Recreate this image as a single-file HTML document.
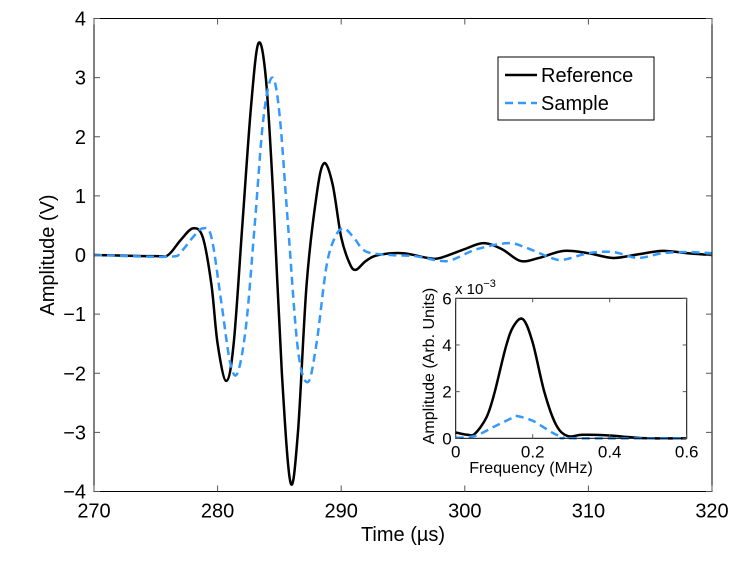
<!DOCTYPE html>
<html><head><meta charset="utf-8"><style>
body{margin:0;background:#fff;}
svg{display:block;font-family:"Liberation Sans",sans-serif;}
</style></head><body>
<svg id="c" width="747" height="571"></svg>
<script>
const refT=[270,275,276,277,278,278.8,279.5,280,280.7,281.3,282,282.7,283.3,283.9,284.5,285.2,285.9,286.5,287.2,288,288.6,289.3,290,290.7,291.2,292,293,295,297,298,300,301.5,303,304.5,306,308,310,312,314,316,318,320];
const refV=[0,-0.02,0,0.25,0.45,0.3,-0.5,-1.5,-2.13,-1.5,0.5,2.5,3.58,3,1,-2,-3.85,-3,-0.5,1,1.55,1.2,0.3,-0.15,-0.25,-0.1,0,0.03,-0.05,-0.05,0.1,0.2,0.1,-0.1,-0.05,0.07,0.03,-0.05,0.01,0.07,0.03,0];
const smpT=[270,276,277,278,278.8,279.5,280.3,281,281.6,282.3,283,283.7,284.4,285,285.7,286.5,287.3,288,288.8,289.5,290.2,291,292,294,296,298,299,301,303.5,305,307,308,310,312,314,316,318,320];
const smpV=[0,-0.03,0.05,0.3,0.45,0.3,-0.8,-1.8,-2.0,-1.2,0.5,2.3,3.0,2.4,0.5,-1.6,-2.15,-1.5,-0.2,0.3,0.45,0.3,0.06,0,-0.02,-0.1,-0.08,0.1,0.2,0.12,-0.05,-0.08,0.03,0.05,-0.05,0.03,0.05,0.03];
const fF=[0,0.03,0.05,0.08,0.1,0.13,0.15,0.175,0.2,0.23,0.26,0.29,0.33,0.4,0.45,0.5,0.6];
const fRef=[0.25,0.15,0.2,0.9,1.9,3.9,4.8,5.1,4.1,2,0.6,0.1,0.15,0.12,0.05,0,0];
const fSmpF=[0,0.05,0.1,0.15,0.16,0.2,0.25,0.28,0.3,0.6];
const fSmp=[0.02,0.1,0.5,0.9,0.95,0.75,0.25,0.03,0,0];
const xTicks=[270,280,290,300,310,320];
const yTicks=[-4,-3,-2,-1,0,1,2,3,4];
const ixTicks=[0,0.2,0.4,0.6];
const iyTicks=[0,2,4,6];

const svg=document.getElementById('c');
const NS='http://www.w3.org/2000/svg';
function mk(tag,attrs,parent){const e=document.createElementNS(NS,tag);for(const k in attrs)e.setAttribute(k,attrs[k]);(parent||svg).appendChild(e);return e;}
function lbl(v){return v<0?'\u2212'+(-v):String(v);}
function smooth(xs,ys,sx,sy){const p=xs.map((x,i)=>[sx(x),sy(ys[i])]);let d='M'+p[0][0]+','+p[0][1];
for(let i=0;i<p.length-1;i++){const p0=p[i-1]||p[i],p1=p[i],p2=p[i+1],p3=p[i+2]||p2;
d+=' C'+(p1[0]+(p2[0]-p0[0])/6)+','+(p1[1]+(p2[1]-p0[1])/6)+' '+(p2[0]-(p3[0]-p1[0])/6)+','+(p2[1]-(p3[1]-p1[1])/6)+' '+p2[0]+','+p2[1];}return d;}

const L=94,R=712,T=18.5,B=491.5;
const sx=t=>L+(t-270)/50*(R-L), sy=v=>255-v*(B-T)/8;
let g=mk('g',{});
let e=mk('path',{d:smooth(refT,refV,sx,sy),fill:'none',stroke:'#000','stroke-width':2.5},g);
e=mk('path',{d:smooth(smpT,smpV,sx,sy),fill:'none',stroke:'#3399ff','stroke-width':2.5,'stroke-dasharray':'8,5'},g);
e=mk('rect',{x:L,y:T,width:R-L,height:B-T,fill:'none',stroke:'#000','stroke-width':1});
xTicks.forEach(t=>{const x=sx(t);mk('line',{x1:x,x2:x,y1:B,y2:B-6,stroke:'#555'});mk('line',{x1:x,x2:x,y1:T,y2:T+6,stroke:'#555'});
const tx=mk('text',{x:x,y:B+26,'font-size':20,'text-anchor':'middle'});tx.textContent=t;});
yTicks.forEach(v=>{const y=sy(v);mk('line',{x1:L,x2:L+6,y1:y,y2:y,stroke:'#555'});mk('line',{x1:R,x2:R-6,y1:y,y2:y,stroke:'#555'});
const tx=mk('text',{x:L-8,y:y+7,'font-size':20,'text-anchor':'end'});tx.textContent=lbl(v);});
e=mk('text',{x:403,y:541,'font-size':20,'text-anchor':'middle'});e.textContent='Time (\u00b5s)';
e=mk('text',{x:54,y:255,'font-size':20,'text-anchor':'middle',transform:'rotate(-90 54 255)'});e.textContent='Amplitude (V)';

let lg=mk('g',{});
mk('rect',{x:498,y:57,width:156,height:63,fill:'#fff',stroke:'#000'},lg);
mk('line',{x1:505,x2:537,y1:75,y2:75,stroke:'#000','stroke-width':2.5},lg);
e=mk('text',{x:541,y:82,'font-size':20},lg);e.textContent='Reference';
mk('line',{x1:505,x2:537,y1:103,y2:103,stroke:'#3399ff','stroke-width':2.5,'stroke-dasharray':'8,5'},lg);
e=mk('text',{x:541,y:110,'font-size':20},lg);e.textContent='Sample';

const iL=455.7,iR=686.7,iT=298.3,iB=438.3;
const ix=f=>iL+f/0.6*(iR-iL), iy=v=>iB-v/6*(iB-iT);
let ig=mk('g',{});
mk('rect',{x:iL,y:iT,width:iR-iL,height:iB-iT,fill:'#fff'},ig);
e=mk('path',{d:smooth(fF,fRef,ix,iy),fill:'none',stroke:'#000','stroke-width':2.5},ig);
e=mk('path',{d:smooth(fSmpF,fSmp,ix,iy),fill:'none',stroke:'#3399ff','stroke-width':2.5,'stroke-dasharray':'8,5'},ig);
mk('rect',{x:iL,y:iT,width:iR-iL,height:iB-iT,fill:'none',stroke:'#000'},ig);
ixTicks.forEach(f=>{const x=ix(f);mk('line',{x1:x,x2:x,y1:iB,y2:iB-4,stroke:'#555'},ig);mk('line',{x1:x,x2:x,y1:iT,y2:iT+4,stroke:'#555'},ig);
const tx=mk('text',{x:x,y:iB+19,'font-size':17,'text-anchor':'middle'},ig);tx.textContent=f;});
iyTicks.forEach(v=>{const y=iy(v);mk('line',{x1:iL,x2:iL+4,y1:y,y2:y,stroke:'#555'},ig);mk('line',{x1:iR,x2:iR-4,y1:y,y2:y,stroke:'#555'},ig);
const tx=mk('text',{x:iL-4,y:y+6,'font-size':17,'text-anchor':'end'},ig);tx.textContent=v;});
e=mk('text',{x:455,y:294,'font-size':15},ig);e.innerHTML='x 10<tspan dy="-7" font-size="11">\u22123</tspan>';
e=mk('text',{x:531,y:473,'font-size':16,'text-anchor':'middle'},ig);e.textContent='Frequency (MHz)';
e=mk('text',{x:434,y:366,'font-size':16,'text-anchor':'middle',transform:'rotate(-90 434 366)'},ig);e.textContent='Amplitude (Arb. Units)';
</script>
</body></html>
